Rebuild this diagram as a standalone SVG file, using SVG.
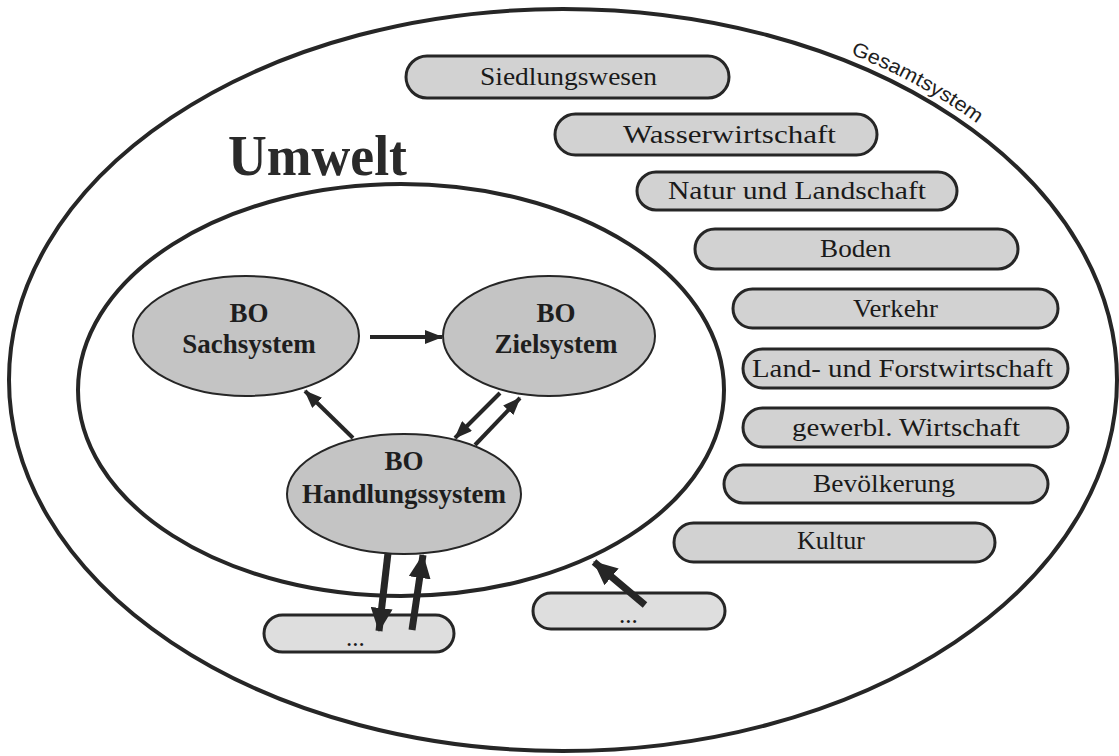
<svg xmlns="http://www.w3.org/2000/svg" xmlns:xlink="http://www.w3.org/1999/xlink" width="1119" height="756" viewBox="0 0 1119 756">
  <defs>
    <style>
      .ring { fill: none; stroke: #262626; stroke-width: 4; }
      .pill { fill: #d2d2d2; stroke: #262626; stroke-width: 3; }
      .pill-light { fill: #dedede; stroke: #262626; stroke-width: 3; }
      .bo { fill: #c4c4c4; stroke: #262626; stroke-width: 2; }
      .pill-text { font-family: "Liberation Serif", "Times New Roman", serif; font-size: 25px; fill: #1a1a1a; text-anchor: start; }
      .bo-text { font-family: "Liberation Serif", "Times New Roman", serif; font-size: 27px; font-weight: bold; fill: #1e1e1e; text-anchor: middle; }
      .title { font-family: "Liberation Serif", "Times New Roman", serif; font-size: 56px; font-weight: bold; fill: #2a2a2a; }
      .label { font-family: "Liberation Sans", Arial, sans-serif; font-size: 20px; fill: #1e1e1e; }
      .thin { stroke: #262626; stroke-width: 4; fill: none; marker-end: url(#headSmall); }
      .thick { stroke: #262626; stroke-width: 7; fill: none; marker-end: url(#headLarge); }
    </style>
    <marker id="headSmall" markerUnits="userSpaceOnUse" markerWidth="18" markerHeight="14" refX="17" refY="7" orient="auto">
      <path d="M0,0 L18,7 L0,14 Z" fill="#262626"/>
    </marker>
    <marker id="headLarge" markerUnits="userSpaceOnUse" markerWidth="24" markerHeight="22" refX="23" refY="11" orient="auto">
      <path d="M0,0 L24,11 L0,22 Z" fill="#262626"/>
    </marker>
    <path id="outerLabelPath" d="M 760 25 A 560 379 0 0 1 1080 231"/>
  </defs>

  <rect x="0" y="0" width="1119" height="756" fill="#ffffff"/>

  <!-- overall system and environment boundaries -->
  <g id="gesamtsystem">
    <ellipse class="ring" cx="563" cy="380" rx="554" ry="371"/>
    <text class="label"><textPath xlink:href="#outerLabelPath" startOffset="95" textLength="145" lengthAdjust="spacingAndGlyphs">Gesamtsystem</textPath></text>
  </g>

  <g id="umwelt">
    <ellipse class="ring" cx="401" cy="390" rx="323" ry="206"/>
    <text class="title" x="228" y="175" textLength="179" lengthAdjust="spacingAndGlyphs">Umwelt</text>
  </g>

  <!-- sector bars -->
  <g id="siedlungswesen">
    <rect class="pill" x="406" y="56" width="323" height="42" rx="21"/>
    <text class="pill-text" x="480" y="85" textLength="177" lengthAdjust="spacingAndGlyphs">Siedlungswesen</text>
  </g>
  <g id="wasserwirtschaft">
    <rect class="pill" x="555" y="114" width="322" height="41" rx="20.5"/>
    <text class="pill-text" x="623" y="143" textLength="213" lengthAdjust="spacingAndGlyphs">Wasserwirtschaft</text>
  </g>
  <g id="natur">
    <rect class="pill" x="637" y="172" width="320" height="38" rx="19"/>
    <text class="pill-text" x="668" y="199" textLength="258" lengthAdjust="spacingAndGlyphs">Natur und Landschaft</text>
  </g>
  <g id="boden">
    <rect class="pill" x="695" y="229" width="323" height="40" rx="20"/>
    <text class="pill-text" x="820" y="257" textLength="71" lengthAdjust="spacingAndGlyphs">Boden</text>
  </g>
  <g id="verkehr">
    <rect class="pill" x="733" y="289" width="325" height="39" rx="19.5"/>
    <text class="pill-text" x="853" y="317" textLength="85" lengthAdjust="spacingAndGlyphs">Verkehr</text>
  </g>
  <g id="land-forst">
    <rect class="pill" x="743" y="349" width="325" height="39" rx="19.5"/>
    <text class="pill-text" x="752" y="377" textLength="301" lengthAdjust="spacingAndGlyphs">Land- und Forstwirtschaft</text>
  </g>
  <g id="gewerbl">
    <rect class="pill" x="743" y="408" width="325" height="39" rx="19.5"/>
    <text class="pill-text" x="792" y="436" textLength="228" lengthAdjust="spacingAndGlyphs">gewerbl. Wirtschaft</text>
  </g>
  <g id="bevoelkerung">
    <rect class="pill" x="724" y="465" width="324" height="38" rx="19"/>
    <text class="pill-text" x="813" y="492" textLength="142" lengthAdjust="spacingAndGlyphs">Bevölkerung</text>
  </g>
  <g id="kultur">
    <rect class="pill" x="674" y="523" width="321" height="39" rx="19.5"/>
    <text class="pill-text" x="797" y="549" textLength="68" lengthAdjust="spacingAndGlyphs">Kultur</text>
  </g>
  <g id="weitere-links">
    <rect class="pill-light" x="264" y="615" width="190" height="37" rx="18.5"/>
    <text class="pill-text" x="346" y="646">...</text>
  </g>
  <g id="weitere-rechts">
    <rect class="pill-light" x="533" y="593" width="192" height="36" rx="18"/>
    <text class="pill-text" x="619" y="623">...</text>
  </g>

  <!-- BO subsystems -->
  <g id="bo-sachsystem">
    <ellipse class="bo" cx="246" cy="336" rx="113" ry="60"/>
    <text class="bo-text" x="249" y="322">BO</text>
    <text class="bo-text" x="249" y="353">Sachsystem</text>
  </g>
  <g id="bo-zielsystem">
    <ellipse class="bo" cx="549" cy="336" rx="106" ry="60"/>
    <text class="bo-text" x="556" y="322">BO</text>
    <text class="bo-text" x="556" y="353">Zielsystem</text>
  </g>
  <g id="bo-handlungssystem">
    <ellipse class="bo" cx="404" cy="494" rx="117" ry="60"/>
    <text class="bo-text" x="404" y="470">BO</text>
    <text class="bo-text" x="404" y="503">Handlungssystem</text>
  </g>

  <!-- connectors -->
  <g id="connectors">
    <line class="thin" x1="370" y1="337" x2="442" y2="337"/>
    <line class="thin" x1="353" y1="438" x2="305" y2="391"/>
    <line class="thin" x1="500" y1="393" x2="455" y2="438"/>
    <line class="thin" x1="475" y1="445" x2="520" y2="398"/>
    <line class="thick" x1="388" y1="553" x2="379" y2="631"/>
    <line class="thick" x1="412" y1="630" x2="423" y2="555"/>
    <line class="thick" x1="645" y1="605" x2="594" y2="562"/>
  </g>
</svg>
